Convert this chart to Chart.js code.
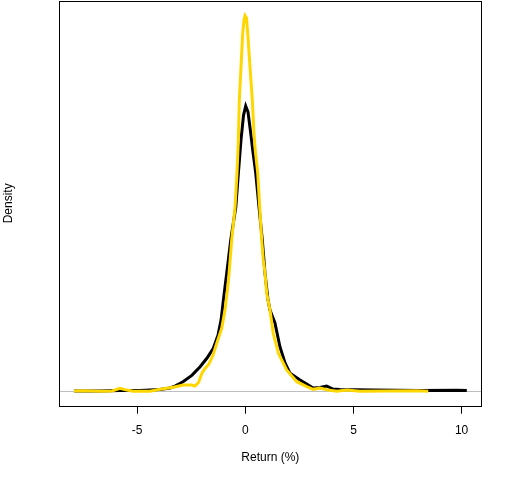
<!DOCTYPE html>
<html>
<head>
<meta charset="utf-8">
<script src="https://cdn.jsdelivr.net/npm/chart.js@4.4.1/dist/chart.umd.min.js"></script>
<style>
html,body{margin:0;padding:0;background:#fff;}
canvas{display:block;}
</style>
</head>
<body>
<canvas id="c" width="512" height="480"></canvas>
<script>
// Return (%) values and densities
const blackX = [-7.92,-6.72,-5.80,-4.87,-3.95,-3.48,-3.25,-2.88,-2.46,-2.09,-1.77,-1.48,-1.26,-1.12,-1.03,-0.94,-0.86,-0.675,-0.44,-0.32,-0.20,-0.083,0.018,0.125,0.25,0.342,0.48,0.633,0.786,0.91,0.98,1.05,1.14,1.37,1.60,1.84,2.07,2.53,2.84,3.13,3.45,3.76,4.05,4.37,5.90,8.08,9.77,10.24];
const blackY = [0.0005,0.0005,0.0013,0.0013,0.003,0.0055,0.0088,0.016,0.027,0.041,0.0555,0.0717,0.094,0.119,0.147,0.174,0.197,0.252,0.307,0.364,0.419,0.460,0.4755,0.4655,0.430,0.402,0.364,0.307,0.252,0.197,0.174,0.152,0.1355,0.1138,0.0743,0.047,0.030,0.0188,0.0122,0.0055,0.0063,0.0088,0.0038,0.003,0.0022,0.0013,0.0018,0.0013];

const yellowX = [-7.92,-7.49,-6.72,-6.16,-5.80,-5.48,-5.18,-4.41,-3.94,-3.33,-2.87,-2.48,-2.33,-2.16,-2.00,-1.86,-1.68,-1.49,-1.32,-1.09,-0.94,-0.81,-0.75,-0.63,-0.476,-0.384,-0.32,-0.277,-0.199,-0.12,-0.06,-0.014,0.055,0.111,0.217,0.324,0.40,0.46,0.573,0.666,0.758,0.832,0.91,0.99,1.14,1.29,1.53,1.91,2.38,2.84,3.14,3.45,3.82,4.23,4.69,5.30,7.92,8.46];
const yellowY = [0.0005,0.001,0.0002,0.0005,0.005,0.002,0.0002,0.0002,0.0033,0.0067,0.0105,0.0105,0.0088,0.0147,0.0305,0.038,0.0455,0.0605,0.080,0.105,0.1355,0.174,0.197,0.252,0.307,0.364,0.419,0.4855,0.5405,0.597,0.619,0.626,0.622,0.597,0.5405,0.4855,0.430,0.402,0.364,0.307,0.252,0.219,0.197,0.163,0.1355,0.0967,0.0633,0.0355,0.016,0.0077,0.0033,0.0055,0.0022,0.0002,0.0022,0.0002,0.001,0.0002];

const xTicks = [-5, 0, 5, 10];

const FONT = "'Liberation Sans', Arial, Helvetica, sans-serif";

const toPts = (xs, ys) => xs.map((x, i) => ({x: x, y: ys[i]}));

const framePlugin = {
  id: 'frame',
  beforeDatasetsDraw(chart) {
    const {ctx, chartArea: a, scales} = chart;
    const y0 = Math.round(scales.y.getPixelForValue(0)) + 0.5;
    ctx.save();
    ctx.strokeStyle = '#bebebe';
    ctx.lineWidth = 1;
    ctx.beginPath();
    ctx.moveTo(a.left, y0);
    ctx.lineTo(a.right, y0);
    ctx.stroke();
    ctx.restore();
  },
  afterDraw(chart) {
    const {ctx, chartArea: a} = chart;
    ctx.save();
    ctx.strokeStyle = '#000';
    ctx.lineWidth = 1;
    const l = Math.round(a.left) + 0.5, t = Math.round(a.top) + 0.5;
    const r = Math.round(a.right) + 0.5, b = Math.round(a.bottom) + 0.5;
    ctx.strokeRect(l, t, r - l, b - t);
    ctx.restore();
  }
};

new Chart(document.getElementById('c'), {
  type: 'scatter',
  data: {
    datasets: [
      {
        label: 'yellow',
        data: toPts(yellowX, yellowY),
        showLine: true,
        borderColor: '#FFD700',
        borderWidth: 3,
        pointRadius: 0,
        tension: 0,
        order: 0
      },
      {
        label: 'black',
        data: toPts(blackX, blackY),
        showLine: true,
        borderColor: '#000000',
        borderWidth: 3,
        pointRadius: 0,
        tension: 0,
        order: 1
      }
    ]
  },
  options: {
    responsive: false,
    animation: false,
    devicePixelRatio: 1,
    layout: {padding: {top: 1, right: 30.7, left: 0, bottom: 0}},
    plugins: {legend: {display: false}, tooltip: {enabled: false}},
    scales: {
      x: {
        type: 'linear',
        min: -8.6,
        max: 10.91,
        afterBuildTicks: s => { s.ticks = xTicks.map(v => ({value: v})); },
        afterFit: s => { s.height = 74.3; },
        border: {display: false},
        grid: {drawOnChartArea: false, drawTicks: true, tickLength: 8, color: '#000', lineWidth: 1},
        ticks: {color: '#000', font: {family: FONT, size: 12}, padding: 10, maxRotation: 0},
        title: {display: true, text: 'Return (%)', color: '#000', font: {family: FONT, size: 12}, padding: {top: 0, bottom: 15}}
      },
      y: {
        type: 'linear',
        min: -0.024,
        max: 0.6505,
        afterFit: s => { s.width = 59.3; },
        border: {display: false},
        grid: {display: false},
        ticks: {display: false},
        title: {display: true, text: 'Density', color: '#000', font: {family: FONT, size: 12}, padding: {top: 1, bottom: 0}}
      }
    }
  },
  plugins: [framePlugin]
});
</script>
</body>
</html>
